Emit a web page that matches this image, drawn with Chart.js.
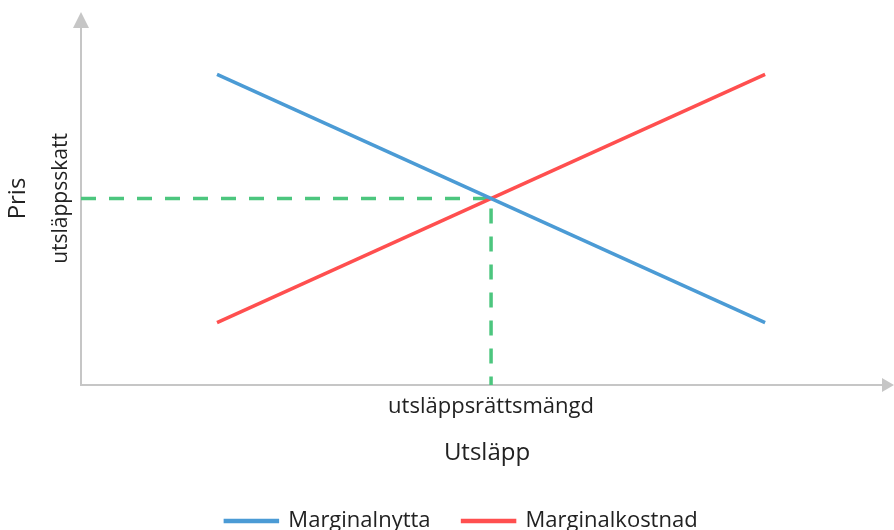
<!DOCTYPE html>
<html>
<head>
<meta charset="utf-8">
<script src="https://cdn.jsdelivr.net/npm/chart.js@4"></script>
<style>
  html, body { margin: 0; padding: 0; background: #fff; }
  #wrap { width: 894px; height: 530px; }
</style>
</head>
<body>
<div id="wrap"><canvas id="chart"></canvas></div>
<script>
// data (x and y on a 0-100 scale)
const nyttaX = [16.75, 84.25];
const nyttaY = [83.3, 16.7];
const kostnadX = [16.75, 84.25];
const kostnadY = [16.7, 83.3];
const jamviktX = [0, 50.5, 50.5];
const jamviktY = [50, 50, 0];
const seriesNames = ["Marginalnytta", "Marginalkostnad"];
const xTickValue = 50.5;
const xTickLabel = "utsläppsrättsmängd";
const yTickValue = 50;
const yTickLabel = "utsläppsskatt";

const FONT = "'Open Sans'";
const AXIS_COLOR = "#c6c6c6";

const toPoints = (xs, ys) => xs.map((x, i) => ({ x: x, y: ys[i] }));

// axis lines with arrow heads + rotated y tick label
const axesPlugin = {
  id: 'axesArrows',
  afterLayout(chart) {
    // legend sits a bit right of the canvas centre in the original
    chart.legend.left += 15;
    chart.legend.right += 15;
  },
  beforeDatasetsDraw(chart) {
    const { ctx, chartArea: a } = chart;
    ctx.save();
    ctx.strokeStyle = AXIS_COLOR;
    ctx.fillStyle = AXIS_COLOR;
    ctx.lineWidth = 2;
    ctx.beginPath();
    ctx.moveTo(a.left, a.top + 10);
    ctx.lineTo(a.left, a.bottom);
    ctx.lineTo(a.right - 8, a.bottom);
    ctx.stroke();
    // y arrow
    ctx.beginPath();
    ctx.moveTo(a.left, a.top);
    ctx.lineTo(a.left - 8, a.top + 16);
    ctx.lineTo(a.left + 8, a.top + 16);
    ctx.closePath();
    ctx.fill();
    // x arrow
    ctx.beginPath();
    ctx.moveTo(a.right + 1, a.bottom);
    ctx.lineTo(a.right - 11, a.bottom - 7);
    ctx.lineTo(a.right - 11, a.bottom + 7);
    ctx.closePath();
    ctx.fill();
    ctx.restore();
  },
  afterDraw(chart) {
    const { ctx } = chart;
    const y = chart.scales.y.getPixelForValue(yTickValue);
    ctx.save();
    ctx.translate(61, y);
    ctx.rotate(-Math.PI / 2);
    ctx.font = "21px " + FONT;
    ctx.fillStyle = "#222";
    ctx.textAlign = "center";
    ctx.textBaseline = "middle";
    ctx.fillText(yTickLabel, 0, 0);
    ctx.restore();
  }
};

new Chart(document.getElementById('chart'), {
  type: 'line',
  data: {
    datasets: [
      {
        label: seriesNames[0],
        data: toPoints(nyttaX, nyttaY),
        borderColor: "#4b9bd5",
        backgroundColor: "#4b9bd5",
        borderWidth: 3.5,
        pointRadius: 0,
      },
      {
        label: seriesNames[1],
        data: toPoints(kostnadX, kostnadY),
        borderColor: "#ff4f4f",
        backgroundColor: "#ff4f4f",
        borderWidth: 3.5,
        pointRadius: 0,
      },
      {
        label: "jamvikt",
        data: toPoints(jamviktX, jamviktY),
        borderColor: "#4cc67e",
        borderWidth: 3.5,
        borderDash: [15, 13],
        pointRadius: 0,
      },
    ],
  },
  options: {
    responsive: true,
    maintainAspectRatio: false,
    animation: false,
    layout: {
      padding: { top: 12, right: 1, bottom: -12, left: 0 },
    },
    scales: {
      x: {
        type: 'linear',
        min: 0,
        max: 100,
        grid: { display: false },
        border: { display: false },
        afterBuildTicks: (scale) => { scale.ticks = [{ value: xTickValue }]; },
        afterFit: (scale) => { scale.height = 93; },
        ticks: {
          callback: () => xTickLabel,
          color: "#222",
          font: { family: FONT, size: 22 },
          maxRotation: 0,
          padding: 1,
        },
        title: {
          display: true,
          text: "Utsläpp",
          color: "#222",
          font: { family: FONT, size: 24 },
          padding: { top: 0, bottom: 10 },
        },
      },
      y: {
        min: 0,
        max: 100,
        grid: { display: false },
        border: { display: false },
        ticks: { display: false },
        afterFit: (scale) => { scale.width = 81; },
        title: {
          display: true,
          text: "Pris",
          color: "#222",
          font: { family: FONT, size: 24 },
          padding: { top: 4, bottom: 0 },
        },
      },
    },
    plugins: {
      legend: {
        position: 'bottom',
        labels: {
          filter: (item) => item.datasetIndex < 2,
          boxWidth: 52,
          boxHeight: 1,
          padding: 32,
          color: "#222",
          font: { family: FONT, size: 22 },
        },
      },
      tooltip: { enabled: false },
    },
  },
  plugins: [axesPlugin],
});
</script>
</body>
</html>
